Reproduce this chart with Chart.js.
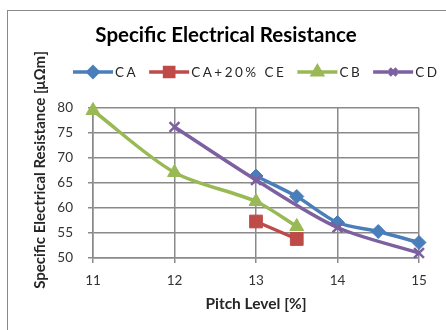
<!DOCTYPE html>
<html><head><meta charset="utf-8">
<script src="https://cdn.jsdelivr.net/npm/chart.js@4"></script>
<style>
html,body{margin:0;padding:0;background:#fff;overflow:hidden}
#wrap{position:relative;width:446px;height:330px;overflow:hidden}
#frame{position:absolute;left:7px;top:10px;width:460px;height:340px;border:1.5px solid #8a8a8a;box-sizing:border-box}
canvas{position:absolute;left:0;top:0}
</style></head><body>
<div id="wrap"><div id="frame"></div><canvas id="c" width="446" height="330"></canvas></div>
<script>
const chartTitle = 'Specific Electrical Resistance';
const xTitle = 'Pitch Level [%]';
const yTitle = 'Specific Electrical Resistance [\u03bc\u03a9m]';
const seriesNames = ['CA', 'CA+20% CE', 'CB', 'CD'];
const caX = [13, 13.5, 14, 14.5, 15];
const caY = [66.4, 62.3, 57.1, 55.3, 53.1];
const ceX = [13, 13.5];
const ceY = [57.3, 53.8];
const cbX = [11, 12, 13, 13.5];
const cbY = [79.5, 67.1, 61.3, 56.3];
const cdX = [12, 13, 14, 15];
const cdY = [76.2, 65.6, 56.1, 51.0];
const xTicks = [11, 12, 13, 14, 15];
const yTicks = [50, 55, 60, 65, 70, 75, 80];

const colors = ['#4A7EBB', '#BE4B48', '#98B954', '#7D60A0'];
const styles = ['rectRot', 'rect', 'triangle', 'crossRot'];
const radii = [7, 9, 8, 7];
const legendRadii = [5, 6.5, 5.5, 5];
const FONT = 'Lato, "Open Sans", sans-serif';

function pts(xs, ys) { return xs.map((x, i) => ({x: x, y: ys[i]})); }
const seriesData = [pts(caX, caY), pts(ceX, ceY), pts(cbX, cbY), pts(cdX, cdY)];

const datasets = seriesData.map((d, i) => ({
  label: seriesNames[i],
  data: d,
  showLine: true,
  borderColor: colors[i],
  backgroundColor: colors[i],
  borderWidth: 3.5,
  tension: 0.3,
  pointStyle: styles[i],
  pointRadius: radii[i],
  pointHoverRadius: radii[i],
  pointBorderColor: colors[i],
  pointBackgroundColor: colors[i],
  pointBorderWidth: i === 3 ? 2.5 : 1,
  clip: false,
  order: 3 - i
}));

const decor = {
  id: 'decor',
  afterDraw(chart) {
    const ctx = chart.ctx;
    ctx.save();
    // title
    ctx.fillStyle = '#000';
    ctx.font = 'bold 20.5px ' + FONT;
    ctx.textAlign = 'center';
    ctx.textBaseline = 'middle';
    ctx.fillText(chartTitle, 226, 35);
    // y title
    ctx.save();
    ctx.translate(40, 170);
    ctx.rotate(-Math.PI / 2);
    ctx.font = 'bold 15px ' + FONT;
    ctx.fillStyle = '#262626';
    ctx.fillText(yTitle, 0, 0);
    ctx.restore();
    // legend
    let x = 73;
    const y = 72;
    ctx.font = '13.5px ' + FONT;
    ctx.letterSpacing = '2.5px';
    ctx.textAlign = 'left';
    seriesNames.forEach((name, i) => {
      ctx.strokeStyle = colors[i];
      ctx.lineWidth = 3.5;
      ctx.beginPath();
      ctx.moveTo(x, y);
      ctx.lineTo(x + 40, y);
      ctx.stroke();
      ctx.fillStyle = colors[i];
      Chart.helpers.drawPoint(ctx, {pointStyle: styles[i], radius: legendRadii[i], borderWidth: i === 3 ? 2.5 : 1}, x + 20, y);
      if (i !== 3) ctx.fill();
      ctx.fillStyle = '#262626';
      ctx.fillText(name, x + 42, y + 1);
      x += 42 + ctx.measureText(name).width + 11;
    });
    ctx.restore();
  }
};

new Chart(document.getElementById('c'), {
  type: 'scatter',
  data: {datasets: datasets},
  options: {
    responsive: false,
    animation: false,
    devicePixelRatio: 1,
    layout: {padding: {top: 108, right: 27, bottom: 17, left: 0}},
    plugins: {legend: {display: false}, title: {display: false}, tooltip: {enabled: false}},
    scales: {
      x: {
        type: 'linear', min: 11, max: 15,
        afterBuildTicks: s => { s.ticks = xTicks.map(v => ({value: v})); },
        afterFit: s => { s.height = 55; },
        ticks: {font: {family: FONT, size: 13.5}, color: '#333', padding: 10, maxRotation: 0},
        grid: {color: '#8a8a8a', lineWidth: 1.5, tickLength: 5},
        border: {color: '#8a8a8a', width: 1.5},
        title: {display: true, text: xTitle, font: {family: FONT, size: 15.5, weight: 'bold'}, color: '#262626', padding: {top: 4, bottom: 0}}
      },
      y: {
        type: 'linear', min: 50, max: 80,
        afterBuildTicks: s => { s.ticks = yTicks.map(v => ({value: v})); },
        afterFit: s => { s.width = 93; },
        ticks: {font: {family: FONT, size: 13.5}, color: '#333', padding: 15},
        grid: {color: '#8a8a8a', lineWidth: 1.5, tickLength: 5},
        border: {color: '#8a8a8a', width: 1.5}
      }
    }
  },
  plugins: [decor]
});
</script>
</body></html>
